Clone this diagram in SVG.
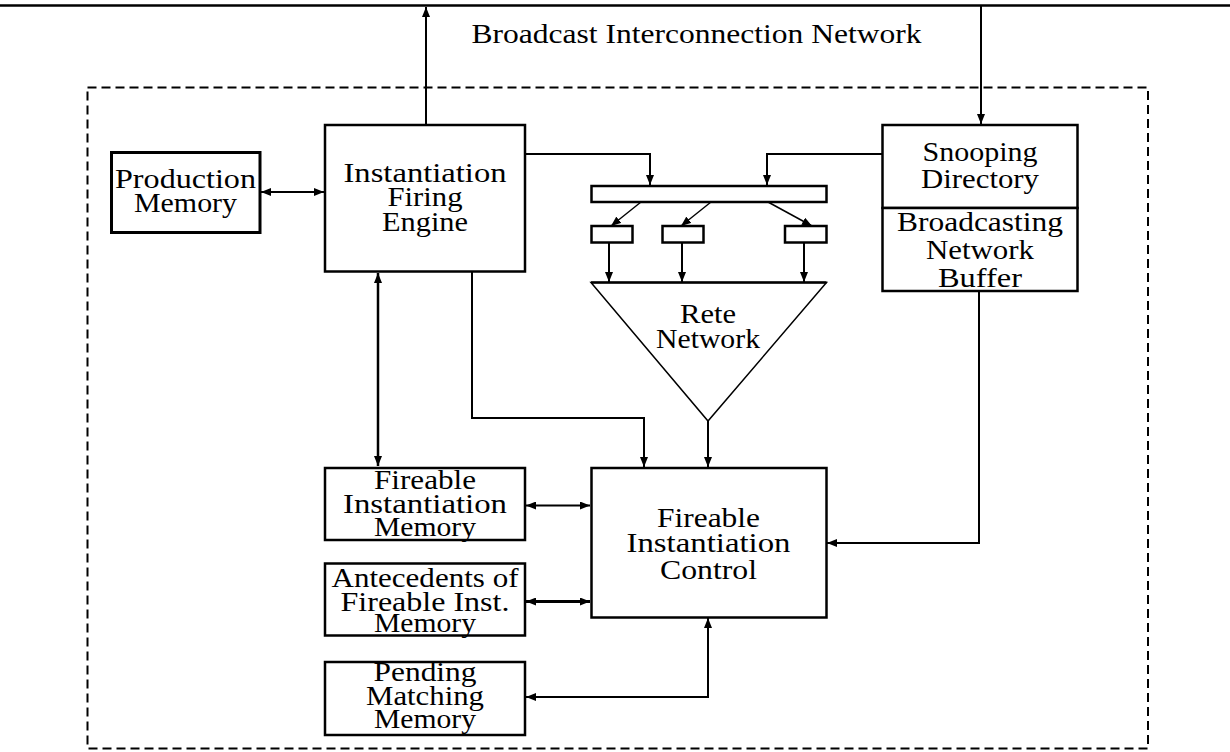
<svg xmlns="http://www.w3.org/2000/svg" width="1230" height="752" viewBox="0 0 1230 752">
<style>
.box{fill:#fff;stroke:#000;stroke-width:2.5}
.tri{fill:#fff;stroke:#000;stroke-width:1.5}
.c{fill:none;stroke:#000;stroke-width:2}
text{font-family:'Liberation Serif','DejaVu Serif',serif;font-size:28px;fill:#000;text-anchor:middle}
</style>
<defs>
<marker id="ah" viewBox="0 0 10 8" refX="10" refY="4" markerWidth="10" markerHeight="8" markerUnits="userSpaceOnUse" orient="auto-start-reverse">
<path d="M0,0 L10,4 L0,8 z" fill="#000"/>
</marker>
</defs>
<rect width="1230" height="752" fill="#fff"/>
<line x1="0" y1="5.5" x2="1230" y2="5.5" stroke="#000" stroke-width="2.5"/>
<rect x="87.5" y="87.5" width="1060.5" height="661" fill="none" stroke="#000" stroke-width="2" stroke-dasharray="9 5"/>
<text font-family="Liberation Serif, DejaVu Serif, serif" x="696.5" y="43" textLength="450" lengthAdjust="spacingAndGlyphs">Broadcast Interconnection Network</text>

<g id="connectors">
<line class="c" x1="426" y1="125" x2="426" y2="7" marker-end="url(#ah)"/>
<line class="c" x1="981" y1="6" x2="981" y2="124" marker-end="url(#ah)"/>
<line class="c" x1="261" y1="192" x2="324" y2="192" marker-start="url(#ah)" marker-end="url(#ah)"/>
<polyline class="c" points="525,154 650,154 650,185" marker-end="url(#ah)"/>
<polyline class="c" points="882,154 767,154 767,185" marker-end="url(#ah)"/>
<line class="c" x1="641" y1="202" x2="611" y2="226" marker-end="url(#ah)" style="stroke-width:1.5"/>
<line class="c" x1="711" y1="202" x2="681" y2="226" marker-end="url(#ah)" style="stroke-width:1.5"/>
<line class="c" x1="768" y1="202" x2="812" y2="226" marker-end="url(#ah)" style="stroke-width:1.5"/>
<line class="c" x1="609" y1="243" x2="609" y2="282" marker-end="url(#ah)"/>
<line class="c" x1="682" y1="243" x2="682" y2="282" marker-end="url(#ah)"/>
<line class="c" x1="804" y1="243" x2="804" y2="282" marker-end="url(#ah)"/>
<line class="c" x1="708" y1="421" x2="708" y2="467" marker-end="url(#ah)"/>
<polyline class="c" points="472,272 472,418 644,418 644,467" marker-end="url(#ah)"/>
<line class="c" x1="378" y1="273" x2="378" y2="466" marker-start="url(#ah)" marker-end="url(#ah)" style="stroke-width:2.5"/>
<line class="c" x1="526" y1="505.5" x2="590" y2="505.5" marker-start="url(#ah)" marker-end="url(#ah)"/>
<line class="c" x1="526" y1="601.5" x2="590" y2="601.5" marker-start="url(#ah)" marker-end="url(#ah)" style="stroke-width:3"/>
<polyline class="c" points="708,618 708,697 526,697" marker-start="url(#ah)" marker-end="url(#ah)"/>
<polyline class="c" points="979,291 979,543 827,543" marker-end="url(#ah)"/>
</g>

<g id="production-memory">
<rect class="box" x="111.5" y="152.5" width="148.5" height="80" style="stroke-width:3"/>
<text x="185.5" y="188" textLength="141" lengthAdjust="spacingAndGlyphs">Production</text>
<text x="185.5" y="212" textLength="103" lengthAdjust="spacingAndGlyphs">Memory</text>
</g>

<g id="instantiation-firing-engine">
<rect class="box" x="325" y="125" width="200" height="146.5"/>
<text x="425" y="181.5" textLength="163" lengthAdjust="spacingAndGlyphs">Instantiation</text>
<text x="425" y="206" textLength="75" lengthAdjust="spacingAndGlyphs">Firing</text>
<text x="425" y="230.5" textLength="86" lengthAdjust="spacingAndGlyphs">Engine</text>
</g>

<g id="snooping-directory">
<rect class="box" x="882.5" y="125" width="195" height="83"/>
<text x="980" y="161" textLength="115" lengthAdjust="spacingAndGlyphs">Snooping</text>
<text x="980" y="188" textLength="118" lengthAdjust="spacingAndGlyphs">Directory</text>
</g>

<g id="broadcasting-network-buffer">
<rect class="box" x="882.5" y="208" width="195" height="83"/>
<text x="980" y="231" textLength="166" lengthAdjust="spacingAndGlyphs">Broadcasting</text>
<text x="980" y="259" textLength="108" lengthAdjust="spacingAndGlyphs">Network</text>
<text x="980" y="286.5" textLength="84" lengthAdjust="spacingAndGlyphs">Buffer</text>
</g>

<g id="input-bar">
<rect class="box" x="591.5" y="186" width="235" height="16"/>
</g>
<g id="buffer-1"><rect class="box" x="591.5" y="226" width="41" height="16.5"/></g>
<g id="buffer-2"><rect class="box" x="662.5" y="226" width="41" height="16.5"/></g>
<g id="buffer-3"><rect class="box" x="785" y="226" width="41.5" height="16.5"/></g>

<g id="rete-network">
<polygon class="tri" points="591,282.5 826.5,282.5 708,421"/>
<line x1="591" y1="282.5" x2="826.5" y2="282.5" stroke="#000" stroke-width="2.5"/>
<text x="708" y="323" textLength="56" lengthAdjust="spacingAndGlyphs">Rete</text>
<text x="708" y="348" textLength="104" lengthAdjust="spacingAndGlyphs">Network</text>
</g>

<g id="fireable-instantiation-memory">
<rect class="box" x="325" y="468" width="200" height="72"/>
<text x="425" y="489" textLength="102" lengthAdjust="spacingAndGlyphs">Fireable</text>
<text x="425" y="513" textLength="164" lengthAdjust="spacingAndGlyphs">Instantiation</text>
<text x="425" y="536" textLength="102" lengthAdjust="spacingAndGlyphs">Memory</text>
</g>

<g id="antecedents-memory">
<rect class="box" x="325" y="563.5" width="200" height="72"/>
<text x="425" y="587" textLength="187" lengthAdjust="spacingAndGlyphs">Antecedents of</text>
<text x="425" y="611" textLength="169" lengthAdjust="spacingAndGlyphs">Fireable Inst.</text>
<text x="425" y="632" textLength="102" lengthAdjust="spacingAndGlyphs">Memory</text>
</g>

<g id="pending-matching-memory">
<rect class="box" x="325" y="662" width="200" height="73"/>
<text x="425" y="681" textLength="103" lengthAdjust="spacingAndGlyphs">Pending</text>
<text x="425" y="705" textLength="118" lengthAdjust="spacingAndGlyphs">Matching</text>
<text x="425" y="728" textLength="102" lengthAdjust="spacingAndGlyphs">Memory</text>
</g>

<g id="fireable-instantiation-control">
<rect class="box" x="591.5" y="468" width="235" height="149.5"/>
<text x="708.5" y="527" textLength="103" lengthAdjust="spacingAndGlyphs">Fireable</text>
<text x="708.5" y="552" textLength="164" lengthAdjust="spacingAndGlyphs">Instantiation</text>
<text x="708.5" y="579" textLength="97" lengthAdjust="spacingAndGlyphs">Control</text>
</g>
</svg>
